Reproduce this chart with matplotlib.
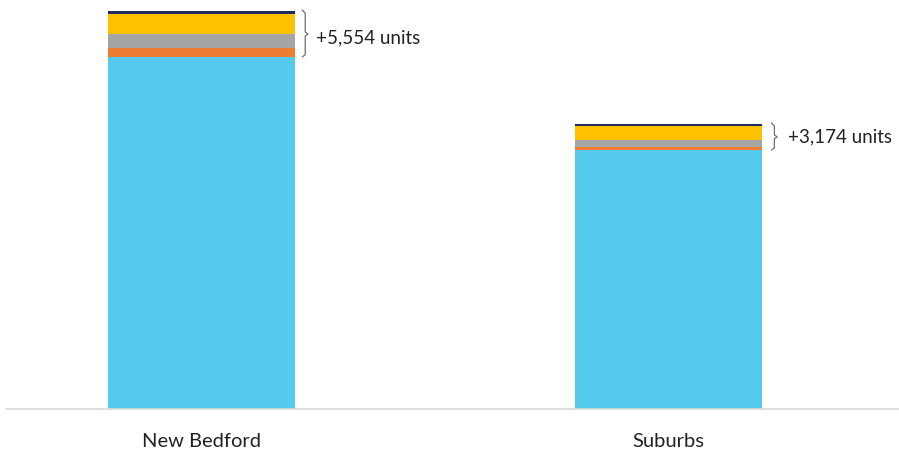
import matplotlib
matplotlib.use("Agg")
import matplotlib.pyplot as plt
import numpy as np

categories = ["New Bedford", "Suburbs"]
base_units = [42900, 31550]
orange_units = [1104, 414]
gray_units = [1700, 820]
yellow_units = [2430, 1660]
navy_units = [320, 280]
increase_labels = ["+5,554 units", "+3,174 units"]

colors = ["#56C9EE", "#ED7D31", "#A5A5A5", "#FFC000", "#1F2A5E"]

plt.rcParams['font.family'] = ['Lato', 'DejaVu Sans']

fig = plt.figure(figsize=(8.99, 4.54), dpi=100)
ax = fig.add_axes([6/899, 45/454, 893/899, 409/454])

x = np.arange(len(categories))
width = 0.4
layers = [base_units, orange_units, gray_units, yellow_units, navy_units]
bottom = np.zeros(len(categories))
for vals, c in zip(layers, colors):
    vals = np.array(vals, dtype=float)
    ax.bar(x, vals, width, bottom=bottom, color=c, edgecolor='none')
    bottom += vals

ax.set_xlim(-0.419, 1.494)
ax.set_ylim(0, 409 * 121.8)

# braces and labels
upx = 121.8  # units per pixel approx
brace_off = [0.222, 0.227]
text_off = [0.245, 0.256]
for i in range(len(categories)):
    lo = base_units[i]
    hi = bottom[i]
    mid = (lo + hi) / 2
    bx = x[i] + brace_off[i]
    dx = 0.006
    dy = 2 * upx
    xs = [bx - dx, bx, bx, bx + dx, bx, bx, bx - dx]
    ys = [hi + upx, hi - dy, mid + dy, mid, mid - dy, lo + dy, lo]
    ax.plot(xs, ys, color="#6F6F6F", lw=0.9, solid_joinstyle='round')
    ax.text(x[i] + text_off[i], mid - 3.5 * upx if i == 0 else mid, increase_labels[i],
            va='center', ha='left', fontsize=13.5, color="#222222")

for s in ['top', 'right', 'left']:
    ax.spines[s].set_visible(False)
ax.spines['bottom'].set_color("#D9D9D9")
ax.spines['bottom'].set_linewidth(1.2)
ax.set_yticks([])
ax.set_xticks(x)
ax.set_xticklabels(categories, fontsize=14.5, color="#222222")
ax.tick_params(axis='x', length=0, pad=17.5)

fig.savefig("out.png", dpi=100)
